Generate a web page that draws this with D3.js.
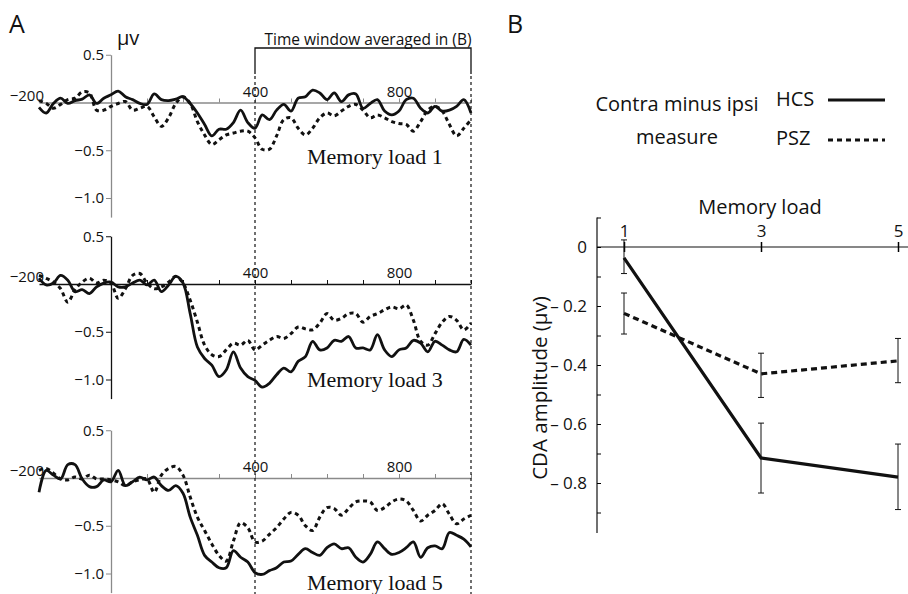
<!DOCTYPE html>
<html>
<head>
<meta charset="utf-8">
<script src="https://cdn.jsdelivr.net/npm/d3@7"></script>
<style>
  body { margin: 0; background: #fff; }
  svg { display: block; }
  text { font-family: "Open Sans", "Noto Sans", sans-serif; fill: #111; }
  .serif { font-family: "Liberation Serif", "DejaVu Serif", serif; }
</style>
</head>
<body>
<div id="chart"></div>
<script>
// ---- Panel A: ERP difference waves (contra minus ipsi), ms vs µV ----
var times = [-200,-180,-160,-140,-120,-100,-80,-60,-40,-20,0,20,40,60,80,100,120,140,160,180,
  200,220,240,260,280,300,320,340,360,380,400,420,440,460,480,500,520,540,560,580,
  600,620,640,660,680,700,720,740,760,780,800,820,840,860,880,900,920,940,960,980,1000];

var hcsLoad1 = [-0.05,-0.11,-0.01,0.045,-0.01,0.02,0.035,0.08,-0.01,0.045,0.08,0.12,0.06,0.03,-0.01,-0.02,0.09,0.03,0.02,0.035,
  0.06,-0.01,-0.11,-0.23,-0.35,-0.28,-0.28,-0.21,-0.08,-0.21,-0.27,-0.13,-0.18,-0.08,-0.02,-0.09,0.045,0.06,0.13,0.10,
  0.03,0.10,0.01,0.08,0.09,-0.06,-0.01,0.03,-0.09,-0.13,-0.09,0.03,0.045,-0.06,-0.11,-0.04,-0.09,-0.08,-0.04,0.03,-0.11];
var pszLoad1 = [0.02,-0.01,-0.06,-0.02,0.03,0.045,0.11,0.1,-0.08,-0.08,-0.04,-0.01,0.01,-0.08,-0.06,-0.04,-0.15,-0.25,-0.16,-0.01,
  0.06,-0.01,-0.2,-0.34,-0.44,-0.39,-0.34,-0.32,-0.30,-0.30,-0.37,-0.49,-0.49,-0.35,-0.18,-0.16,-0.27,-0.34,-0.27,-0.16,
  -0.11,-0.14,-0.09,-0.04,-0.02,-0.08,-0.16,-0.13,-0.16,-0.2,-0.22,-0.23,-0.30,-0.2,-0.08,-0.04,-0.09,-0.23,-0.35,-0.27,-0.18];
var hcsLoad3 = [0.06,-0.01,0.01,0.09,0.04,-0.08,-0.06,-0.1,-0.03,0.01,0.02,-0.03,-0.03,0.01,0.04,-0.01,0.04,-0.08,-0.01,0.08,
  0.01,-0.31,-0.66,-0.78,-0.85,-0.97,-0.9,-0.71,-0.88,-0.97,-1.01,-1.08,-1.04,-0.95,-0.88,-0.92,-0.81,-0.76,-0.6,-0.69,
  -0.67,-0.59,-0.6,-0.55,-0.67,-0.67,-0.69,-0.53,-0.69,-0.76,-0.69,-0.67,-0.59,-0.62,-0.71,-0.6,-0.64,-0.69,-0.71,-0.58,-0.64];
var pszLoad3 = [0.09,0.06,0.02,-0.05,-0.19,-0.06,0.02,0.06,0.01,0.04,0.01,-0.15,-0.05,0.09,0.11,0.01,-0.05,-0.03,0.02,0.08,
  0.01,-0.17,-0.4,-0.64,-0.74,-0.76,-0.69,-0.62,-0.64,-0.59,-0.69,-0.64,-0.59,-0.55,-0.57,-0.52,-0.45,-0.47,-0.48,-0.41,
  -0.31,-0.38,-0.36,-0.31,-0.31,-0.4,-0.34,-0.31,-0.27,-0.24,-0.26,-0.22,-0.38,-0.6,-0.64,-0.52,-0.4,-0.34,-0.38,-0.48,-0.41];
var hcsLoad5 = [-0.15,0.08,0.03,-0.01,0.14,0.14,-0.01,-0.09,-0.09,-0.02,-0.04,0.08,-0.08,-0.04,0.01,-0.02,0.01,-0.08,-0.13,-0.08,
  -0.16,-0.41,-0.6,-0.81,-0.88,-0.94,-0.94,-0.76,-0.83,-0.88,-0.99,-1.01,-0.97,-0.94,-0.88,-0.87,-0.8,-0.74,-0.78,-0.81,
  -0.73,-0.69,-0.74,-0.73,-0.83,-0.88,-0.8,-0.67,-0.74,-0.8,-0.78,-0.73,-0.67,-0.83,-0.73,-0.71,-0.74,-0.57,-0.6,-0.64,-0.72];
var pszLoad5 = [0.08,0.1,0.05,-0.01,-0.02,0.01,-0.01,0.03,-0.01,-0.01,-0.02,-0.04,-0.08,-0.04,-0.02,-0.01,-0.15,0.03,0.1,0.12,
  0.03,-0.2,-0.41,-0.55,-0.69,-0.81,-0.87,-0.66,-0.47,-0.52,-0.67,-0.66,-0.59,-0.52,-0.43,-0.36,-0.39,-0.5,-0.55,-0.41,
  -0.31,-0.32,-0.39,-0.32,-0.25,-0.24,-0.25,-0.34,-0.31,-0.25,-0.22,-0.24,-0.34,-0.45,-0.39,-0.34,-0.27,-0.38,-0.48,-0.43,-0.39];

var erpPanels = [
  {label: "Memory load 1", hcs: hcsLoad1, psz: pszLoad1},
  {label: "Memory load 3", hcs: hcsLoad3, psz: pszLoad3},
  {label: "Memory load 5", hcs: hcsLoad5, psz: pszLoad5}
];
var erpYTicks = [0.5, -0.5, -1.0];
var erpXTicks = [100, 200, 300, 400, 500, 600, 700, 800, 900, 1000];
var erpXLabels = [400, 800];
var windowStart = 400, windowEnd = 1000;

// ---- Panel B: mean CDA amplitude by memory load ----
var loads = [1, 3, 5];
var hcsMean = [-0.037, -0.715, -0.78];
var hcsLow = [-0.09, -0.834, -0.89];
var hcsHigh = [0.024, -0.597, -0.668];
var pszMean = [-0.225, -0.43, -0.386];
var pszLow = [-0.295, -0.51, -0.46];
var pszHigh = [-0.156, -0.36, -0.31];
var cdaYTicks = [0.1, 0, -0.1, -0.2, -0.3, -0.4, -0.5, -0.6, -0.7, -0.8, -0.9];
var cdaYLabels = [0, -0.2, -0.4, -0.6, -0.8];

var W = 908, H = 594;
var svg = d3.select("#chart").append("svg")
    .attr("width", W)
    .attr("height", H);

// ================= Panel A =================
svg.append("text").attr("x", 9).attr("y", 33)
    .style("font-size", "25px").text("A");

var x = d3.scaleLinear().domain([-200, 1000]).range([39, 471]);
var baselines = [102.5, 284, 478];
var pxPerUv = 95.5;

var line = d3.line()
    .curve(d3.curveCatmullRom.alpha(0.5));

erpPanels.forEach(function(p, i) {
    var b = baselines[i];
    var y = d3.scaleLinear().domain([-1.2, 0.5])
        .range([b + 1.2 * pxPerUv, b - 0.5 * pxPerUv]);
    var axisColor = (i === 1) ? "#111" : "#8a8a8a";
    var g = svg.append("g");

    // horizontal zero line with ticks above
    var xAxis = d3.axisTop(x)
        .tickValues(erpXTicks)
        .tickSize(4)
        .tickSizeOuter(0)
        .tickPadding(2)
        .tickFormat(function(d) { return erpXLabels.indexOf(d) >= 0 ? d : ""; });
    var xg = g.append("g")
        .attr("transform", "translate(0," + y(0) + ")")
        .call(xAxis);
    xg.select(".domain").attr("stroke", axisColor).attr("stroke-width", 1.3);
    xg.selectAll(".tick line").attr("stroke", axisColor).attr("stroke-width", 1);
    xg.selectAll(".tick text").attr("fill", "#111")
        .style("font-size", "15px").style("font-family", "'Open Sans', sans-serif");

    g.append("text")
        .attr("x", 44).attr("y", y(0) - 2)
        .attr("text-anchor", "end")
        .style("font-size", "15px")
        .text("\u2212200");

    // vertical axis at t = 0
    var yAxis = d3.axisLeft(y)
        .tickValues(erpYTicks)
        .tickSize(5)
        .tickSizeOuter(0)
        .tickPadding(2)
        .tickFormat(d3.format(".1f"));
    var yg = g.append("g")
        .attr("transform", "translate(" + x(0) + ",0)")
        .call(yAxis);
    yg.select(".domain").attr("stroke", axisColor).attr("stroke-width", 1.3);
    yg.selectAll(".tick line").attr("stroke", axisColor);
    yg.selectAll(".tick text").attr("fill", "#111")
        .style("font-size", "15px").style("font-family", "'Open Sans', sans-serif");

    line.x(function(d, j) { return x(times[j]); })
        .y(function(d) { return y(d); });

    g.append("path")
        .datum(p.psz)
        .attr("d", line)
        .attr("fill", "none")
        .attr("stroke", "#111")
        .attr("stroke-width", 3)
        .attr("stroke-dasharray", "4,3.5");

    g.append("path")
        .datum(p.hcs)
        .attr("d", line)
        .attr("fill", "none")
        .attr("stroke", "#111")
        .attr("stroke-width", 2.8)
        .attr("stroke-linejoin", "round");

    g.append("text")
        .attr("class", "serif")
        .attr("x", 307)
        .attr("y", [164, 387, 590][i])
        .style("font-size", "22px")
        .text(p.label);
});

// µV unit label
svg.append("text").attr("x", 117).attr("y", 45)
    .style("font-size", "20px").text("\u00b5v");

// averaging window bracket and dashed guides
svg.append("path")
    .attr("d", "M" + x(windowStart) + ",74V48H" + x(windowEnd) + "V74")
    .attr("fill", "none").attr("stroke", "#111").attr("stroke-width", 1.3);
[windowStart, windowEnd].forEach(function(t) {
    svg.append("line")
        .attr("x1", x(t)).attr("x2", x(t))
        .attr("y1", 76).attr("y2", H)
        .attr("stroke", "#111").attr("stroke-width", 1.2)
        .attr("stroke-dasharray", "3,3");
});
svg.append("text")
    .attr("x", (x(windowStart) + x(windowEnd)) / 2 + 5).attr("y", 45)
    .attr("text-anchor", "middle")
    .style("font-size", "15.5px")
    .text("Time window averaged in (B)");

// ================= Panel B =================
svg.append("text").attr("x", 507).attr("y", 33)
    .style("font-size", "25px").text("B");

var xb = d3.scaleLinear().domain([1, 5]).range([624, 898]);
var yb = d3.scaleLinear().domain([0, -0.8]).range([247, 483]);

// legend
svg.append("text").attr("x", 677).attr("y", 111)
    .attr("text-anchor", "middle").style("font-size", "20px")
    .text("Contra minus ipsi");
svg.append("text").attr("x", 677).attr("y", 144)
    .attr("text-anchor", "middle").style("font-size", "20px")
    .text("measure");
svg.append("text").attr("x", 776).attr("y", 106)
    .style("font-size", "20px").text("HCS");
svg.append("text").attr("x", 776).attr("y", 145)
    .style("font-size", "20px").text("PSZ");
svg.append("line").attr("x1", 828).attr("x2", 885).attr("y1", 100).attr("y2", 100)
    .attr("stroke", "#111").attr("stroke-width", 3);
svg.append("line").attr("x1", 828).attr("x2", 885).attr("y1", 140).attr("y2", 140)
    .attr("stroke", "#111").attr("stroke-width", 3).attr("stroke-dasharray", "5,4");

// axes
var bx = svg.append("g")
    .attr("transform", "translate(0," + yb(0) + ")")
    .call(d3.axisTop(xb).tickValues(loads).tickSize(5).tickPadding(5).tickSizeOuter(0)
        .tickFormat(d3.format("d")));
bx.select(".domain").attr("d", "M597,0H" + W).attr("stroke", "#111").attr("stroke-width", 1.2);
bx.selectAll(".tick line").attr("y1", 5).attr("y2", -5).attr("stroke-width", 1.5);
bx.selectAll(".tick text").style("font-size", "17px").style("font-family", "'Open Sans', sans-serif");

var by = svg.append("g")
    .attr("transform", "translate(597,0)")
    .call(d3.axisLeft(yb).tickValues(cdaYTicks).tickSize(4).tickPadding(6).tickSizeOuter(0)
        .tickFormat(function(d) {
            var r = Math.round(d * 10) / 10;
            if (cdaYLabels.indexOf(r) < 0) return "";
            return r === 0 ? "0" : "\u2013 " + d3.format(".1f")(Math.abs(r));
        }));
by.select(".domain").attr("d", "M0," + yb(0.1) + "V533").attr("stroke", "#111").attr("stroke-width", 1.2);
by.selectAll(".tick line").attr("x2", 4);
by.selectAll(".tick text").style("font-size", "17px").style("font-family", "'Open Sans', sans-serif");

svg.append("text")
    .attr("x", 760).attr("y", 214)
    .attr("text-anchor", "middle").style("font-size", "20px")
    .text("Memory load");
svg.append("text")
    .attr("transform", "translate(547,388) rotate(-90)")
    .attr("text-anchor", "middle").style("font-size", "20.5px")
    .text("CDA amplitude (\u00b5v)");

// error bars
function errorBars(low, high) {
    loads.forEach(function(l, i) {
        var cx = xb(l);
        svg.append("path")
            .attr("d", "M" + (cx - 3) + "," + yb(high[i]) + "H" + (cx + 3) +
                "M" + cx + "," + yb(high[i]) + "V" + yb(low[i]) +
                "M" + (cx - 3) + "," + yb(low[i]) + "H" + (cx + 3))
            .attr("fill", "none").attr("stroke", "#111").attr("stroke-width", 1);
    });
}
errorBars(hcsLow, hcsHigh);
errorBars(pszLow, pszHigh);

var lineB = d3.line()
    .x(function(d, i) { return xb(loads[i]); })
    .y(function(d) { return yb(d); });

svg.append("path").datum(pszMean).attr("d", lineB)
    .attr("fill", "none").attr("stroke", "#111").attr("stroke-width", 3.2)
    .attr("stroke-dasharray", "6,4");
svg.append("path").datum(hcsMean).attr("d", lineB)
    .attr("fill", "none").attr("stroke", "#111").attr("stroke-width", 3.2);
</script>
</body>
</html>
